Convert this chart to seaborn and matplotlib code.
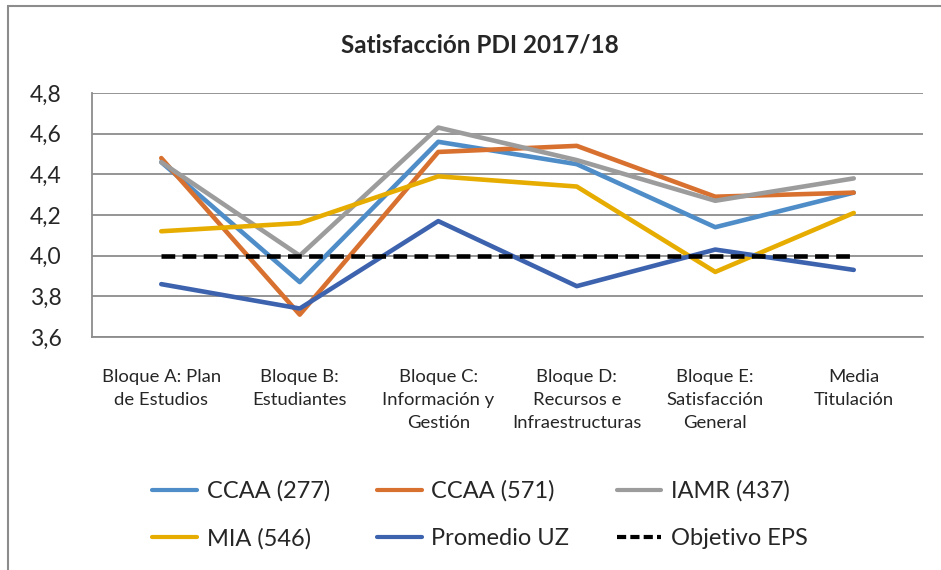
import matplotlib
matplotlib.use('Agg')
import matplotlib.pyplot as plt
from matplotlib.patches import Rectangle
import seaborn as sns
import pandas as pd

# 数据
categories = ['Bloque A: Plan\nde Estudios', 'Bloque B:\nEstudiantes',
              'Bloque C:\nInformación y\nGestión', 'Bloque D:\nRecursos e\nInfraestructuras',
              'Bloque E:\nSatisfacción\nGeneral', 'Media\nTitulación']
ccaa_277 = [4.46, 3.87, 4.56, 4.45, 4.14, 4.31]
ccaa_571 = [4.48, 3.71, 4.51, 4.54, 4.29, 4.31]
iamr_437 = [4.46, 4.00, 4.63, 4.47, 4.27, 4.38]
mia_546 = [4.12, 4.16, 4.39, 4.34, 3.92, 4.21]
promedio_uz = [3.86, 3.74, 4.17, 3.85, 4.03, 3.93]
objetivo_eps = [4.0, 4.0, 4.0, 4.0, 4.0, 4.0]
y_ticks = [3.6, 3.8, 4.0, 4.2, 4.4, 4.6, 4.8]

series = {
    'CCAA (277)': ccaa_277,
    'CCAA (571)': ccaa_571,
    'IAMR (437)': iamr_437,
    'MIA (546)': mia_546,
    'Promedio UZ': promedio_uz,
    'Objetivo EPS': objetivo_eps,
}
colors = {
    'CCAA (277)': '#4F8DC8',
    'CCAA (571)': '#D8712F',
    'IAMR (437)': '#9C9C9C',
    'MIA (546)': '#E6AD00',
    'Promedio UZ': '#3D63AE',
    'Objetivo EPS': '#000000',
}

rows = []
for name, vals in series.items():
    for i, v in enumerate(vals):
        rows.append({'x': i, 'valor': v, 'serie': name})
df = pd.DataFrame(rows)

sns.set_style('white')
plt.rcParams['font.family'] = ['Lato', 'DejaVu Sans']

fig = plt.figure(figsize=(9.41, 5.70), dpi=100)
ax = fig.add_axes([92 / 941, 1 - 337 / 570, (923 - 92) / 941, (337 - 93) / 570])

sns.lineplot(data=df, x='x', y='valor', hue='serie', style='serie',
             palette=colors,
             dashes={k: ((3, 1.6) if k == 'Objetivo EPS' else '') for k in series},
             linewidth=3.3, ax=ax, legend=False, sort=False)

ax.set_xlim(-0.5, 5.5)
ax.set_ylim(3.6, 4.8)
ax.set_yticks(y_ticks)
ax.set_yticklabels([f'{t:.1f}'.replace('.', ',') for t in y_ticks], fontsize=16.5)
ax.set_xticks(range(len(categories)))
ax.set_xticklabels(categories, fontsize=13.3, linespacing=1.55, va='top')
ax.tick_params(axis='x', length=0, pad=23)
ax.tick_params(axis='y', length=0, pad=22)
ax.set_xlabel('')
ax.set_ylabel('')
ax.grid(True, axis='y', color='#8C8C8C', linewidth=1.3)
ax.set_axisbelow(True)
for side in ['top', 'right']:
    ax.spines[side].set_visible(False)
for side in ['left', 'bottom']:
    ax.spines[side].set_color('#8C8C8C')
    ax.spines[side].set_linewidth(1.3)

fig.text(480 / 941, 1 - 45 / 570, 'Satisfacción PDI 2017/18', fontsize=17.5,
         fontweight='bold', ha='center', va='center')

# 图例（行优先顺序）
order = ['CCAA (277)', 'MIA (546)', 'CCAA (571)', 'Promedio UZ', 'IAMR (437)', 'Objetivo EPS']
handles = []
for name in order:
    ls = (0, (2.2, 1.0)) if name == 'Objetivo EPS' else '-'
    handles.append(plt.Line2D([], [], color=colors[name], linewidth=3, linestyle=ls, label=name))
fig.legend(handles=handles, ncol=3, loc='center', bbox_to_anchor=(480 / 941, 1 - 515 / 570),
           frameon=False, fontsize=17, handlelength=1.9, handletextpad=0.4,
           columnspacing=2.0, labelspacing=1.1)

fig.patches.append(Rectangle((8 / 941, -0.1), 1.2, 1.1 - 6 / 570, transform=fig.transFigure,
                             fill=False, edgecolor='#8C8C8C', linewidth=1.5))

fig.savefig('out.png', dpi=100, facecolor='white')
